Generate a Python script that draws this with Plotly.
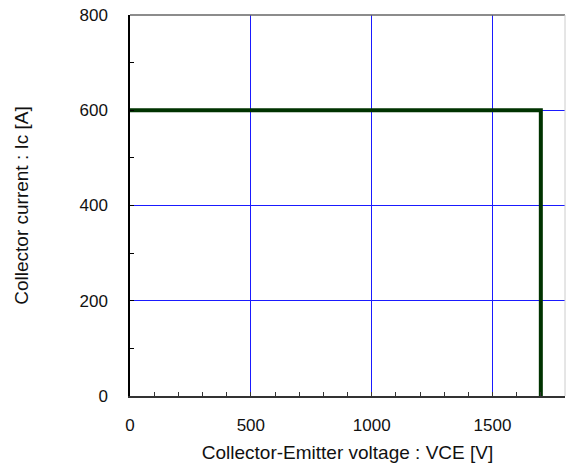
import plotly.graph_objects as go

# Safe operating area boundary (collector-emitter voltage vs collector current)
vce_values = [0, 1700, 1700]
ic_values = [600, 600, 0]

x_ticks = [0, 500, 1000, 1500]
y_ticks = [0, 200, 400, 600, 800]

font_family = "Liberation Sans, Arial, sans-serif"
tick_size = 17
title_size = 19

fig = go.Figure()
fig.add_trace(go.Scatter(
    x=vce_values, y=ic_values, mode="lines",
    line=dict(color="#003300", width=4),
    showlegend=False, hoverinfo="skip",
))

fig.update_layout(
    width=566, height=466,
    margin=dict(l=130, r=1, t=15, b=70),
    paper_bgcolor="white", plot_bgcolor="white",
    font=dict(family=font_family, size=tick_size, color="#111111"),
    shapes=[
        dict(type="line", xref="paper", yref="paper", x0=0, x1=1, y0=1, y1=1,
             line=dict(color="#666666", width=1.5), layer="above"),
        dict(type="line", xref="paper", yref="paper", x0=1, x1=1, y0=0, y1=1,
             line=dict(color="#cccccc", width=1), layer="above"),
    ],
)

fig.update_xaxes(
    range=[0, 1800], tickvals=x_ticks, ticktext=[str(v) for v in x_ticks],
    showgrid=True, gridcolor="#1a1aff", gridwidth=1,
    zeroline=False, showline=True, linecolor="#333333", linewidth=1.5,
    ticks="inside", ticklen=4, tickcolor="#333333",
    minor=dict(dtick=100, tick0=0, ticks="inside", ticklen=4, tickcolor="#333333", showgrid=False),
    ticklabelstandoff=13,
    title=dict(text="Collector-Emitter voltage : VCE [V]", standoff=12, font=dict(size=title_size)),
    tickfont=dict(size=tick_size),
)
fig.update_yaxes(
    range=[0, 800], tickvals=y_ticks, ticktext=[str(v) for v in y_ticks],
    showgrid=True, gridcolor="#1a1aff", gridwidth=1,
    zeroline=False, showline=True, linecolor="black", linewidth=1.5,
    ticks="inside", ticklen=4, tickcolor="black",
    minor=dict(dtick=100, tick0=0, ticks="inside", ticklen=4, tickcolor="black", showgrid=False),
    ticklabelstandoff=17,
    title=dict(text="Collector current : Ic [A]", standoff=46, font=dict(size=title_size)),
    tickfont=dict(size=tick_size),
)

fig.write_html("out.html")
